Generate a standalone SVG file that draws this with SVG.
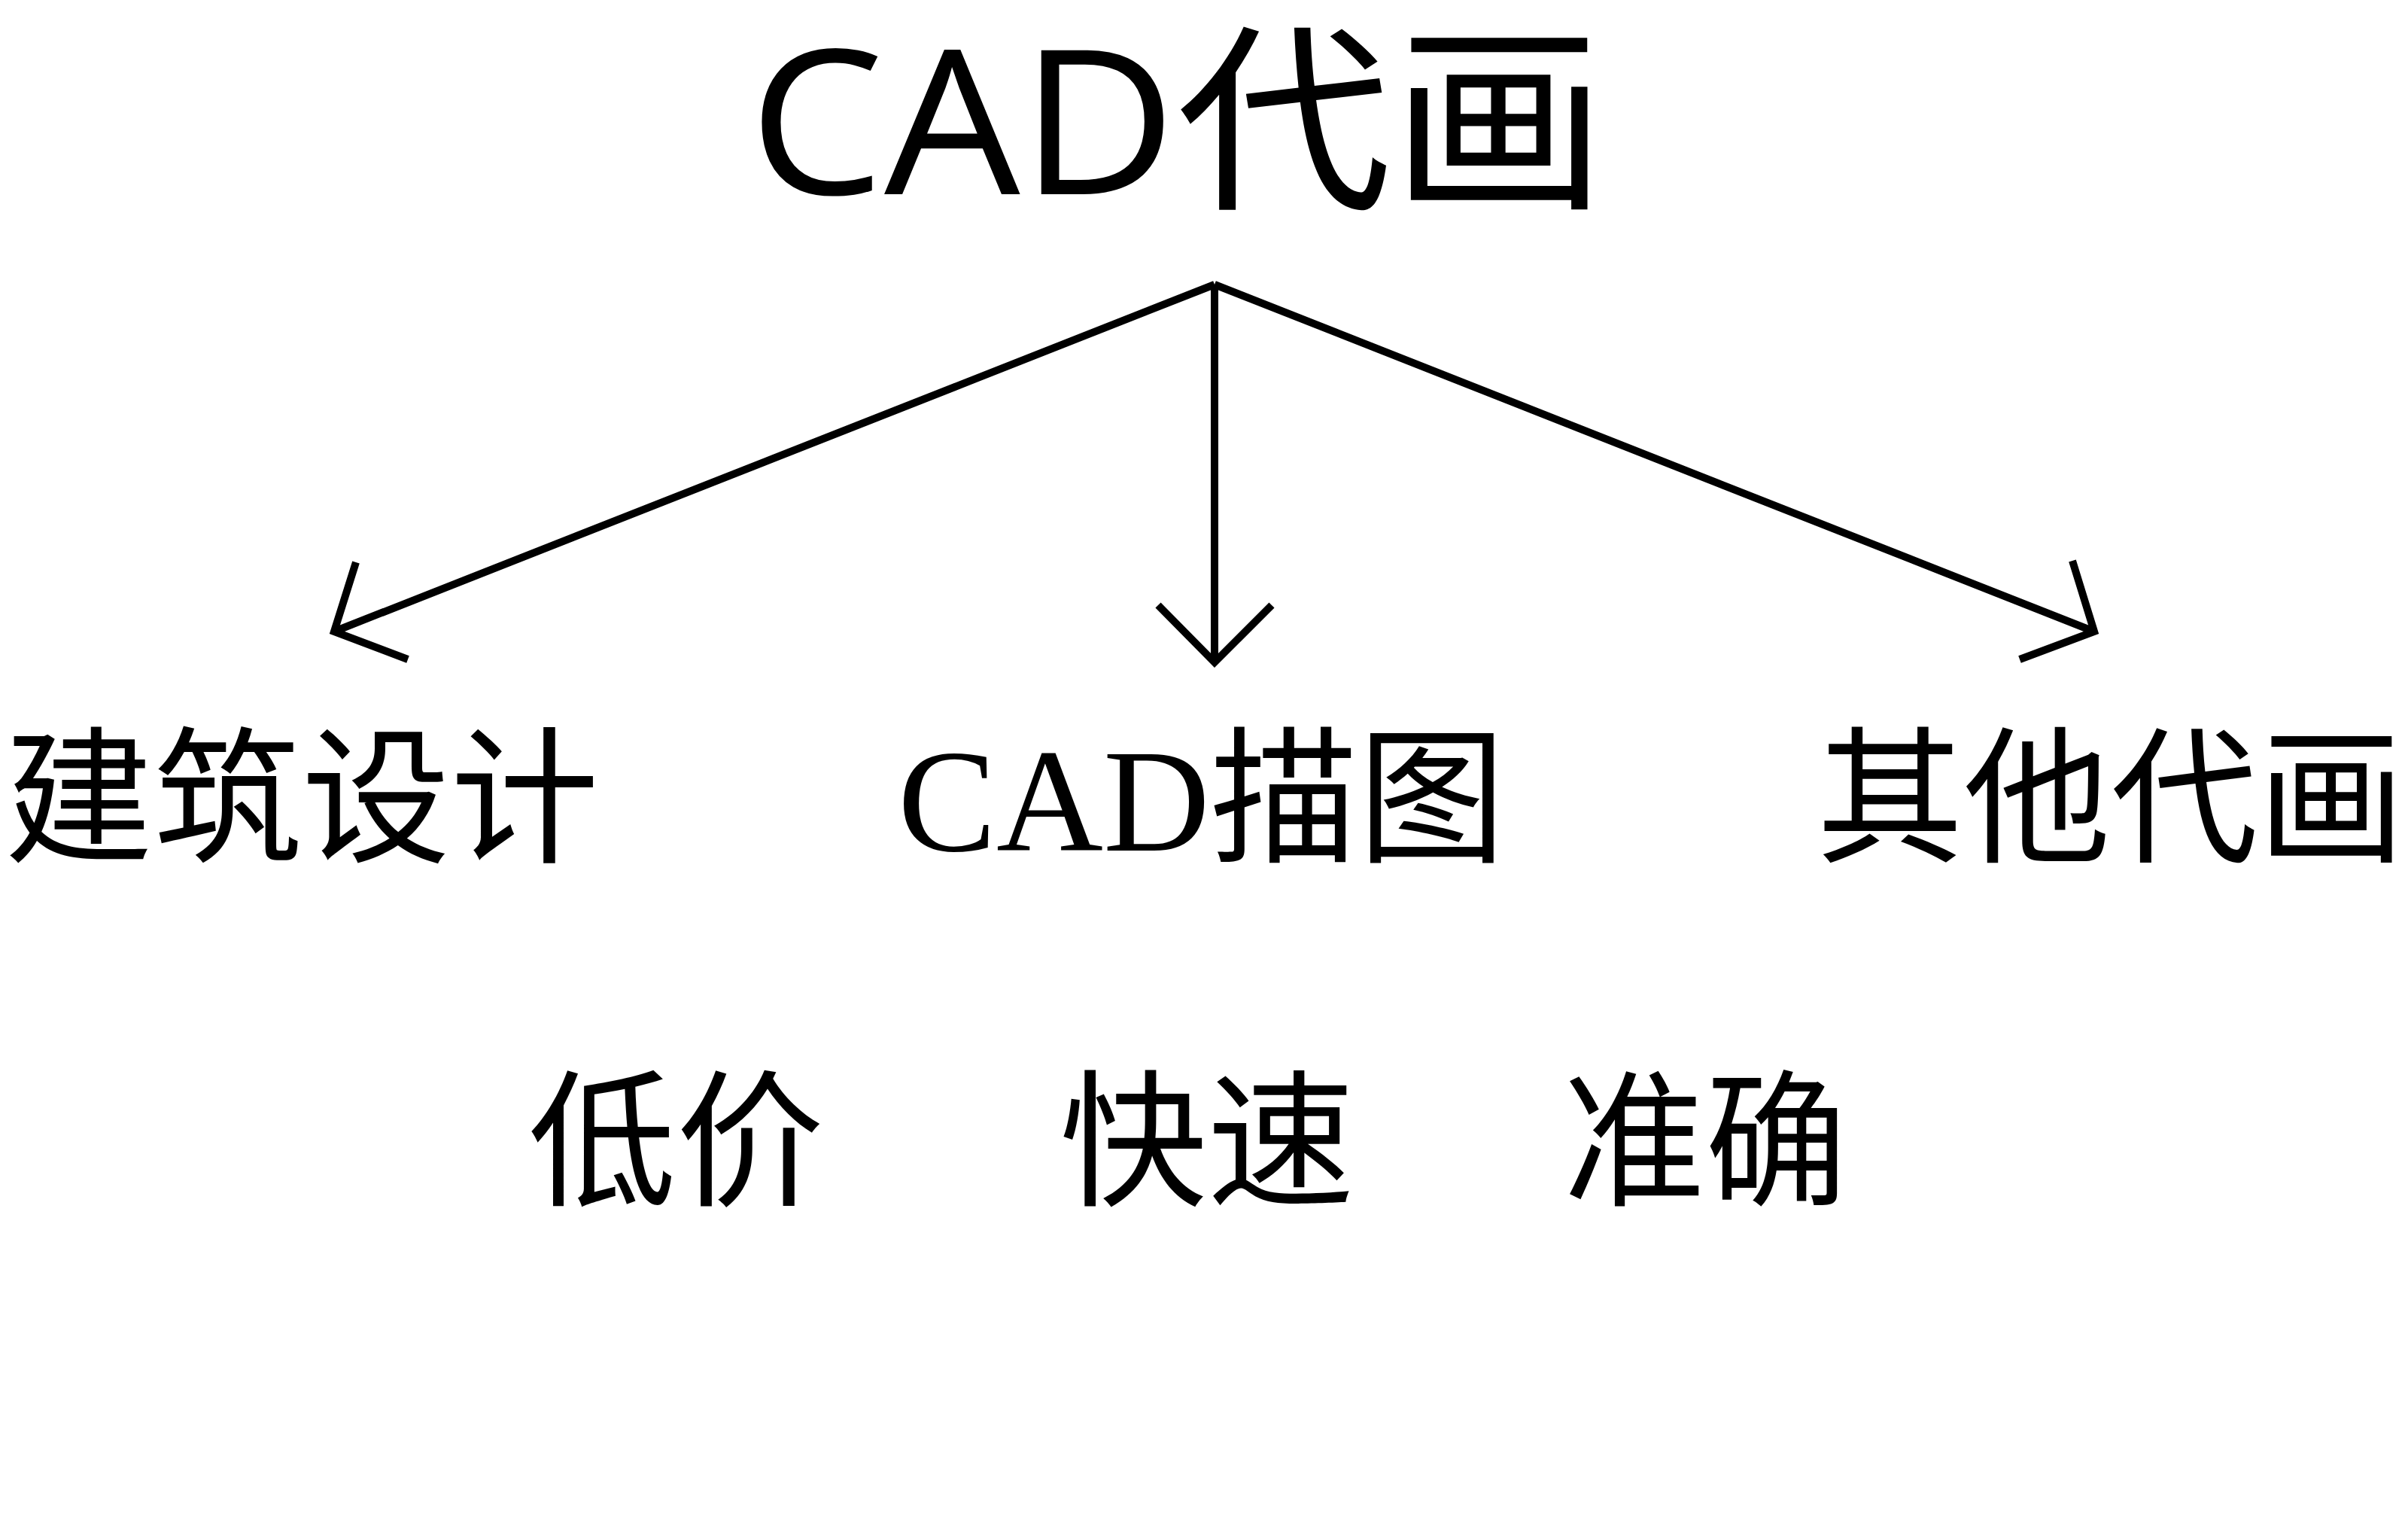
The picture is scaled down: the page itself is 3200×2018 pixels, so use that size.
<svg xmlns="http://www.w3.org/2000/svg" width="3200" height="2018" viewBox="0 0 3200 2018">
<style>
.t{font-family:"Liberation Serif","Noto Sans CJK SC",serif;font-size:196px;fill:#000}
.h{font-family:"Open Sans","Noto Sans CJK SC",sans-serif;font-size:268px;fill:#000}
.c{stroke:#000;stroke-width:10;fill:none}
</style>
<rect width="3200" height="2018" fill="#fff"/>
<g id="title"><text class="h" x="995" y="258" textLength="1140" lengthAdjust="spacingAndGlyphs">CAD代画</text></g>
<g id="connectors">
<line class="c" x1="1614" y1="378" x2="444" y2="839"/>
<polyline class="c" points="473,747 444,839 542,876"/>
<line class="c" x1="1614" y1="378" x2="1614" y2="880"/>
<polyline class="c" points="1539,804 1614,880 1690,804"/>
<line class="c" x1="1614" y1="378" x2="2783" y2="839"/>
<polyline class="c" points="2754,745 2783,839 2684,876"/>
</g>
<g id="n1"><text class="t" x="6" y="1130" textLength="790" lengthAdjust="spacingAndGlyphs">建筑设计</text></g>
<g id="n2"><text class="t" x="1193" y="1130" textLength="808" lengthAdjust="spacingAndGlyphs">CAD描图</text></g>
<g id="n3"><text class="t" x="2414" y="1130" textLength="782" lengthAdjust="spacingAndGlyphs">其他代画</text></g>
<g id="n4"><text class="t" x="702" y="1586" textLength="393" lengthAdjust="spacingAndGlyphs">低价</text></g>
<g id="n5"><text class="t" x="1408" y="1586" textLength="392" lengthAdjust="spacingAndGlyphs">快速</text></g>
<g id="n6"><text class="t" x="2077" y="1586" textLength="378" lengthAdjust="spacingAndGlyphs">准确</text></g>
</svg>
